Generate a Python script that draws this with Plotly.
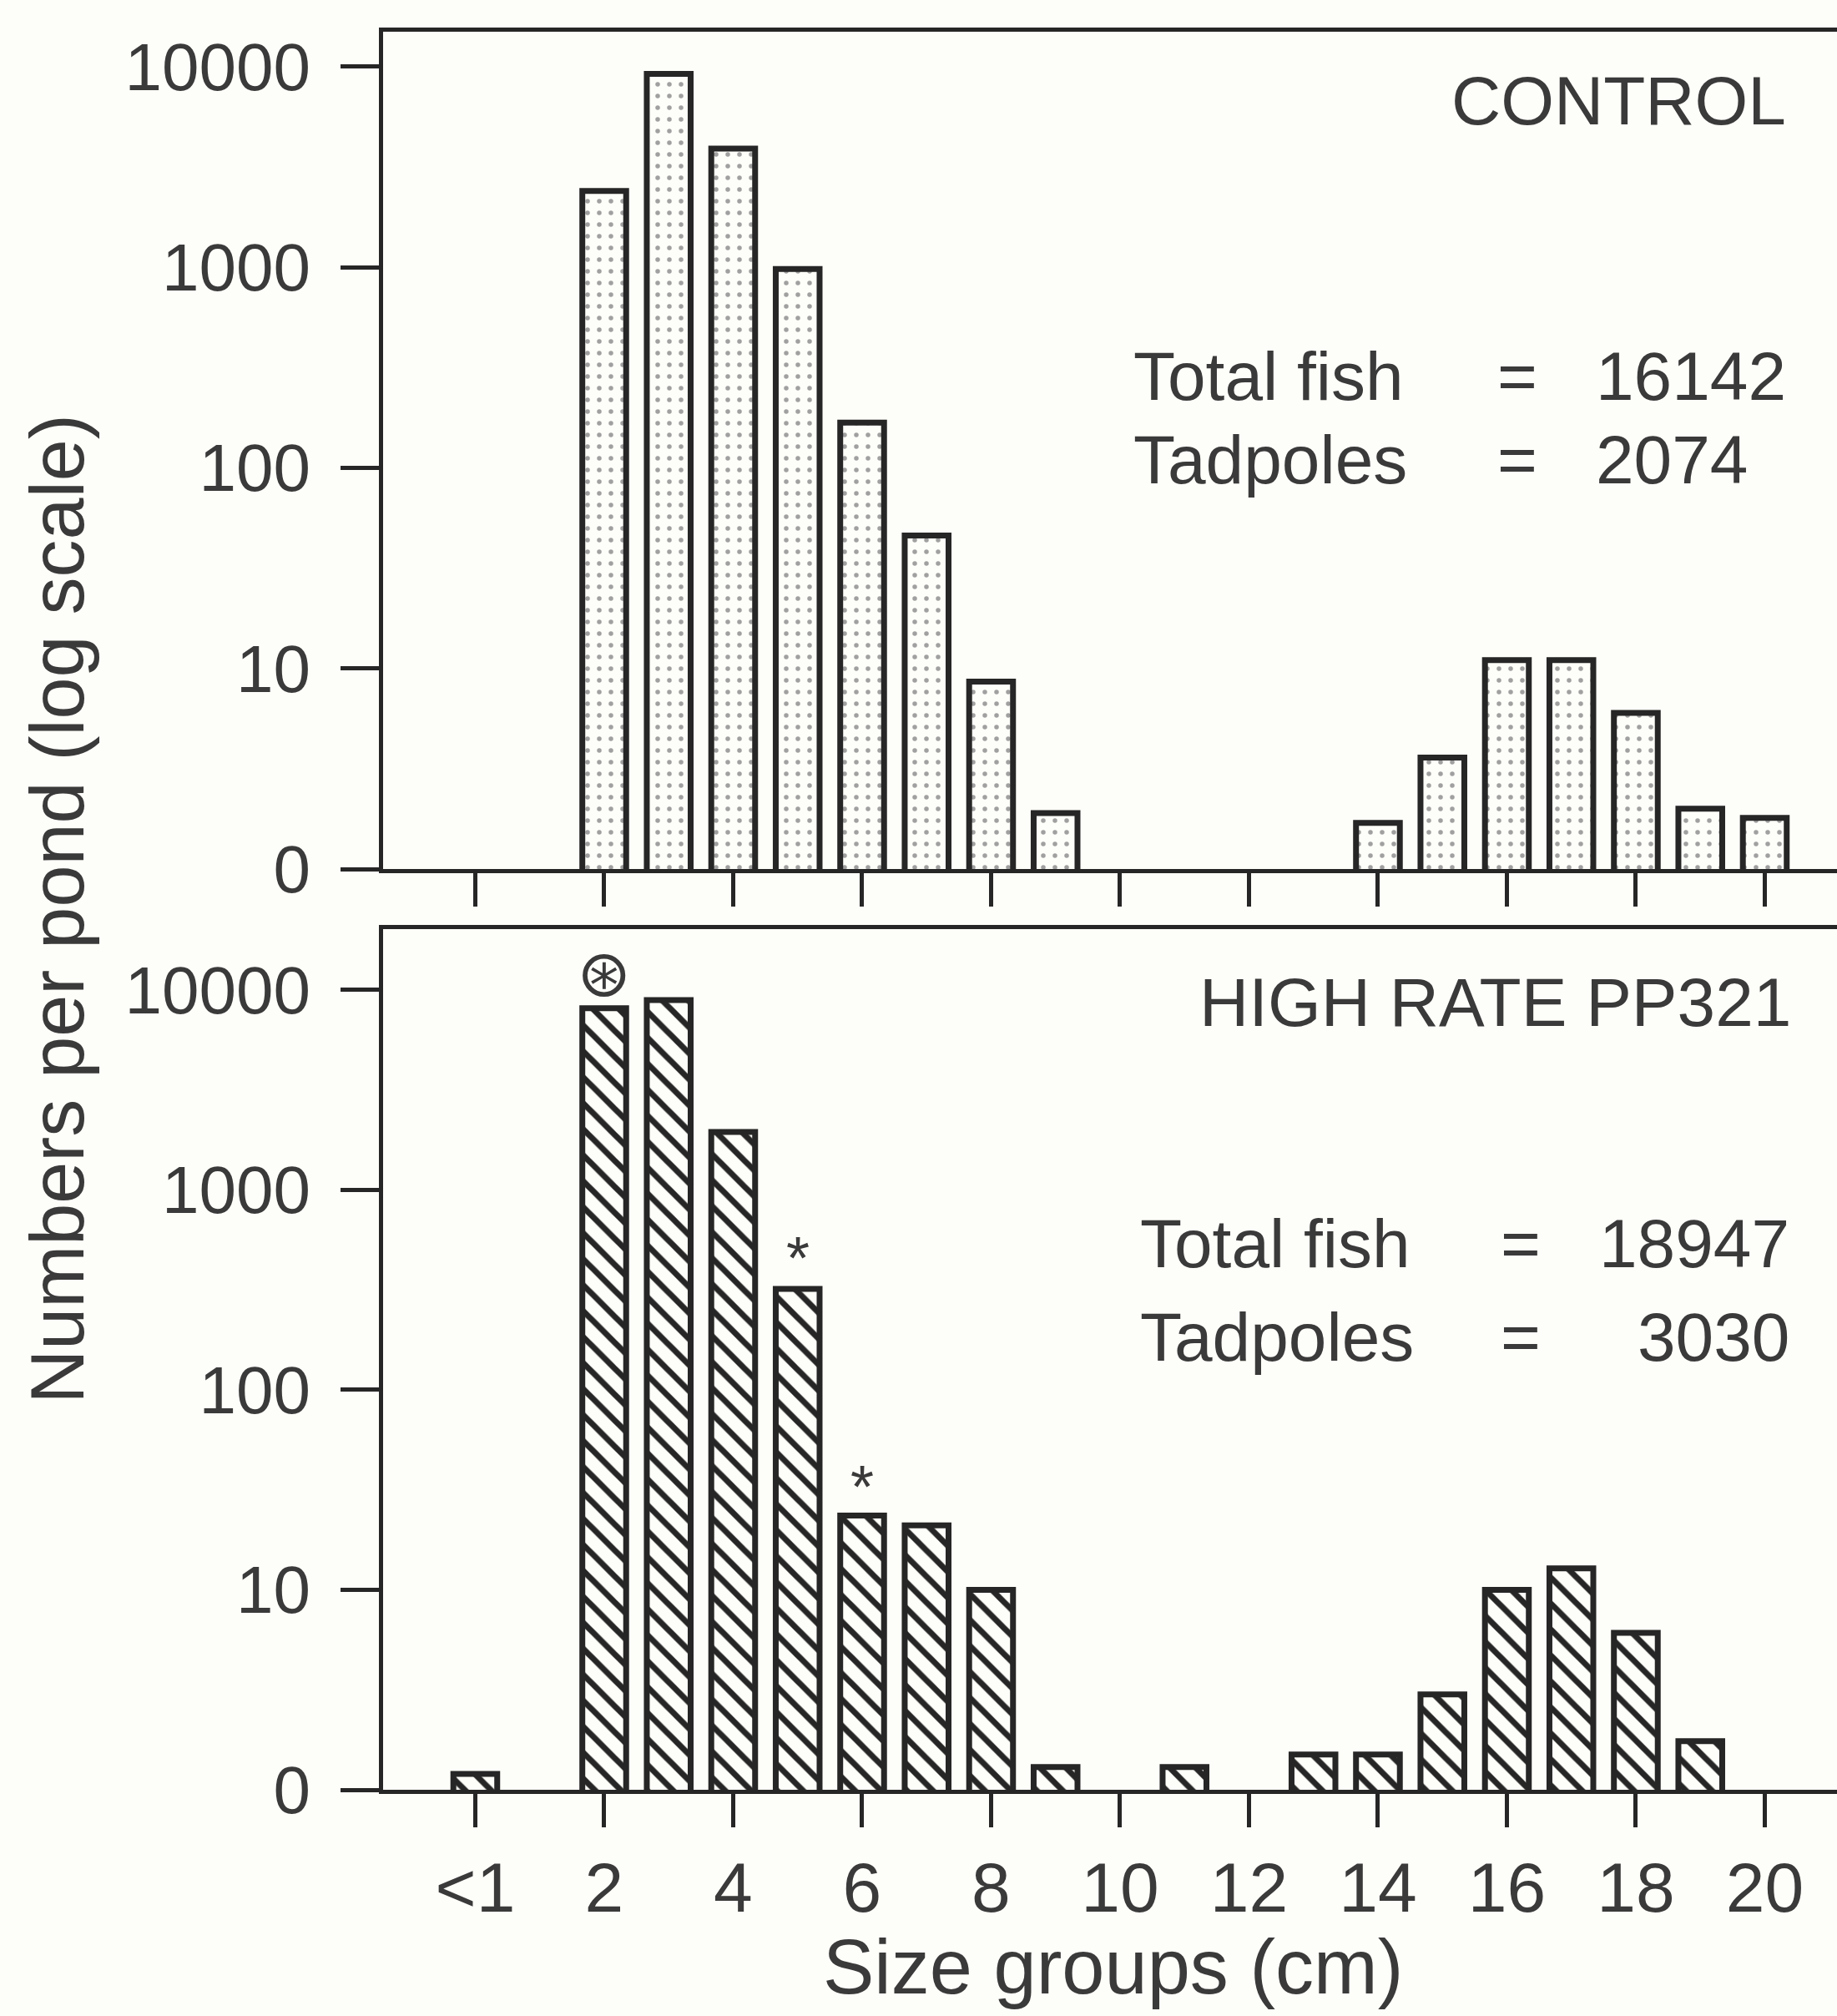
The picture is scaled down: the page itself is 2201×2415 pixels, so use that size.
import plotly.graph_objects as go

# ---------------- data ----------------
size_groups = [0, 2, 3, 4, 5, 6, 7, 8, 9, 10, 11, 12, 13, 14, 15, 16, 17, 18, 19, 20]
control_counts = [None, 2400, 9200, 3900, 980, 168, 46, 8.6, 1.9, None, None, None,
                  None, 1.7, 3.6, 11, 11, 6.0, 2.0, 1.8]
high_rate_counts = [1.2, 8100, 8900, 1950, 320, 23.5, 21, 10, 1.3, None, 1.3, None,
                    1.5, 1.5, 3.0, 10, 12.8, 6.1, 1.75, None]

x_tick_positions = [0, 2, 4, 6, 8, 10, 12, 14, 16, 18, 20]
x_tick_labels = ["<1", "2", "4", "6", "8", "10", "12", "14", "16", "18", "20"]
y_tick_values = [1, 10, 100, 1000, 10000]
y_tick_labels = ["0", "10", "100", "1000", "10000"]

control_totals = {"Total fish": "16142", "Tadpoles": "2074"}
high_rate_totals = {"Total fish": "18947", "Tadpoles": "3030"}

# ---------------- style ----------------
BG = "#fdfdf9"
INK = "#262626"
TXT = "#3a3a3a"
FONT = "Liberation Sans, Arial, sans-serif"

fig = go.Figure()

fig.add_trace(go.Bar(
    x=size_groups, y=control_counts, width=0.68,
    xaxis="x", yaxis="y",
    marker=dict(color=BG, line=dict(color=INK, width=7),
                pattern=dict(shape=".", fgcolor="#a0a0a0", bgcolor=BG,
                             size=14, solidity=0.12, fillmode="replace")),
    showlegend=False, hoverinfo="x+y",
))
fig.add_trace(go.Bar(
    x=size_groups, y=high_rate_counts, width=0.68,
    xaxis="x2", yaxis="y2",
    marker=dict(color=BG, line=dict(color=INK, width=7),
                pattern=dict(shape="\\", fgcolor=INK, bgcolor=BG,
                             size=22, solidity=0.32, fillmode="replace")),
    showlegend=False, hoverinfo="x+y",
))

axis_common = dict(
    range=[-1.43, 21.12], tickmode="array", tickvals=x_tick_positions,
    ticktext=x_tick_labels, ticks="outside", ticklen=40, tickwidth=5,
    tickcolor=INK, showline=True, linewidth=5, linecolor=INK, mirror=True,
    showgrid=False, zeroline=False,
)
yaxis_common = dict(
    type="log", tickmode="array", tickvals=y_tick_values, ticktext=y_tick_labels,
    ticks="outside", ticklen=46, tickwidth=5, tickcolor=INK, showline=True,
    linewidth=5, linecolor=INK, showgrid=False, zeroline=False,
    tickfont=dict(family=FONT, size=80, color=TXT), ticklabelstandoff=20,
)

fig.update_layout(
    width=2201, height=2415,
    margin=dict(l=459, r=0, t=38, b=271),
    paper_bgcolor=BG, plot_bgcolor=BG,
    xaxis=dict(domain=[0, 1], anchor="y", showticklabels=False, **axis_common),
    xaxis2=dict(domain=[0, 1], anchor="y2", showticklabels=True,
                tickfont=dict(family=FONT, size=84, color=TXT),
                ticklabelstandoff=0, **axis_common),
    yaxis=dict(domain=[0.5237, 1], anchor="x", range=[0, 4.174], **yaxis_common),
    yaxis2=dict(domain=[0, 0.4896], anchor="x2", range=[0, 4.305], **yaxis_common),
)

ann = []
def txt(text, x, y, xref, yref, size=82, xanchor="left", family=FONT, **kw):
    ann.append(dict(text=text, x=x, y=y, xref=xref, yref=yref, showarrow=False,
                    xanchor=xanchor, yanchor="middle",
                    font=dict(family=family, size=size, color=TXT), **kw))

# panel titles
txt("CONTROL", 20.35, 0.918, "x", "y domain", xanchor="right")
txt("HIGH RATE PP321", 20.44, 0.9146, "x2", "y2 domain", xanchor="right")

# totals - control
rows_c = list(control_totals.items())
txt(rows_c[0][0], 10.18, 0.589, "x", "y domain")
txt("=", 16.16, 0.589, "x", "y domain", xanchor="center")
txt(rows_c[0][1], 17.35, 0.589, "x", "y domain")
txt(rows_c[1][0], 10.18, 0.4895, "x", "y domain")
txt("=", 16.16, 0.4895, "x", "y domain", xanchor="center")
txt(rows_c[1][1], 17.35, 0.4895, "x", "y domain")

# totals - high rate
rows_h = list(high_rate_totals.items())
txt(rows_h[0][0], 10.28, 0.635, "x2", "y2 domain")
txt("=", 16.22, 0.635, "x2", "y2 domain", xanchor="center")
txt(rows_h[0][1], 20.41, 0.635, "x2", "y2 domain", xanchor="right")
txt(rows_h[1][0], 10.28, 0.526, "x2", "y2 domain")
txt("=", 16.22, 0.526, "x2", "y2 domain", xanchor="center")
txt(rows_h[1][1], 20.41, 0.526, "x2", "y2 domain", xanchor="right")

# significance marks
txt("⊛", 2, 0.9486, "x2", "y2 domain", size=78, xanchor="center",
    family="DejaVu Sans, sans-serif")
txt("*", 5, 0.618, "x2", "y2 domain", size=72, xanchor="center")
txt("*", 6, 0.352, "x2", "y2 domain", size=72, xanchor="center")

# axis titles
txt("Size groups (cm)", 0.502, -0.1007, "paper", "paper", size=92, xanchor="center")
txt("Numbers per pond (log scale)", -0.2239, 0.501, "paper", "paper", size=90,
    xanchor="center", textangle=-90)

fig.update_layout(annotations=ann)

fig.write_html("out.html")
